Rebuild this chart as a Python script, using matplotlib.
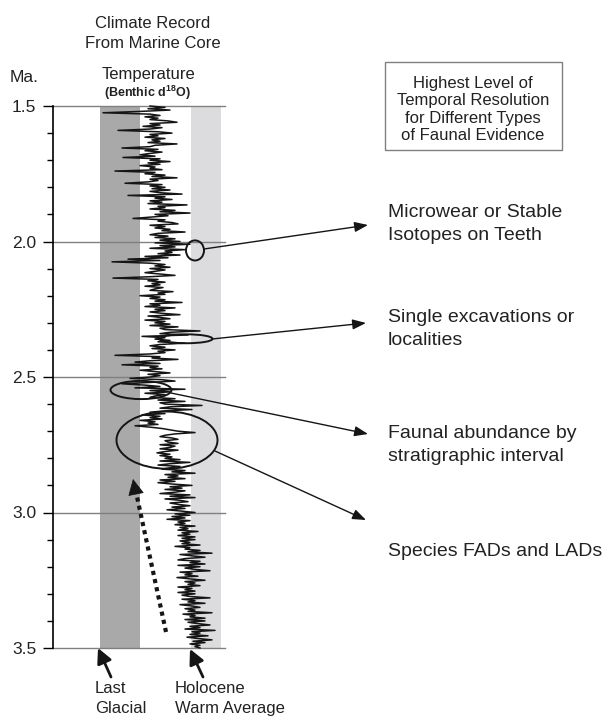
import matplotlib
matplotlib.use('Agg')
import matplotlib.pyplot as plt
from matplotlib.patches import Ellipse, Rectangle
from matplotlib.ticker import MultipleLocator, FormatStrFormatter
import numpy as np

plt.rcParams['font.family'] = ['Liberation Sans', 'DejaVu Sans']
plt.rcParams['mathtext.fontset'] = 'custom'
plt.rcParams['mathtext.rm'] = 'Liberation Sans'
plt.rcParams['mathtext.bf'] = 'Liberation Sans:bold'

# benthic d18O record (per mil), one sample every 0.005 Ma from 1.500 to 3.500 Ma
ages = np.arange(300, 701) / 200.0
d18o = [
    # 1.50
    4.23, 4.08, 4.25, 4.03, 4.33, 4.70, 4.23, 4.13, 4.28, 4.15,
    4.23, 4.05, 3.96, 4.23, 4.13, 4.30, 4.11, 4.23, 4.55, 4.15,
    # 1.60
    4.01, 4.23, 4.15, 4.28, 4.08, 4.21, 4.13, 4.25, 3.96, 4.18,
    4.23, 4.51, 4.15, 4.28, 4.11, 4.23, 4.33, 4.18, 4.50, 4.13,
    # 1.70
    4.23, 4.03, 4.25, 4.13, 4.33, 4.18, 4.23, 4.11, 4.58, 4.18,
    4.28, 4.08, 4.21, 3.96, 4.23, 4.15, 4.25, 4.48, 4.11, 4.23,
    # 1.80
    4.08, 4.21, 4.03, 4.23, 4.13, 3.91, 4.45, 4.08, 4.18, 4.01,
    4.23, 4.11, 4.25, 3.86, 4.15, 4.08, 4.23, 3.98, 4.13, 3.83,
    # 1.90
    4.18, 4.05, 4.23, 4.40, 4.08, 4.15, 4.01, 3.95, 4.23, 4.08,
    4.18, 4.03, 4.11, 3.88, 4.15, 4.23, 4.05, 4.18, 3.98, 4.13,
    # 2.00
    3.93, 4.18, 3.83, 4.13, 3.98, 4.23, 3.88, 4.08, 4.01, 4.15,
    3.93, 4.28, 4.05, 4.45, 4.13, 4.61, 4.23, 4.08, 4.18, 4.03,
    # 2.10
    4.23, 4.08, 4.18, 4.28, 4.13, 3.98, 4.23, 4.60, 4.15, 4.25,
    4.08, 4.21, 4.13, 4.28, 4.10, 4.18, 4.23, 4.00, 4.15, 4.08,
    # 2.20
    4.33, 4.13, 4.23, 4.08, 4.18, 3.91, 4.23, 4.13, 4.28, 3.98,
    4.18, 4.08, 4.23, 4.11, 3.93, 4.25, 4.13, 4.03, 4.28, 4.08,
    # 2.30
    4.18, 4.03, 4.23, 3.95, 4.13, 4.08, 3.73, 4.03, 4.13, 3.85,
    4.31, 4.08, 4.18, 4.03, 4.15, 3.88, 4.13, 4.23, 4.08, 4.21,
    # 2.40
    3.98, 4.15, 4.08, 4.23, 4.58, 4.13, 4.21, 3.95, 4.23, 4.38,
    4.13, 4.51, 4.15, 4.23, 4.11, 4.33, 4.18, 4.03, 4.25, 4.13,
    # 2.50
    4.23, 4.43, 4.11, 3.98, 4.23, 4.51, 4.28, 4.13, 4.38, 3.88,
    4.23, 4.03, 4.28, 4.08, 4.18, 4.23, 3.98, 4.15, 3.88, 4.13,
    # 2.60
    4.08, 3.71, 4.03, 4.13, 3.81, 4.08, 4.23, 4.08, 4.31, 4.13,
    4.23, 4.11, 4.33, 4.18, 4.25, 4.15, 4.38, 4.23, 4.11, 4.03,
    # 2.70
    3.95, 3.78, 3.98, 4.08, 4.13, 4.01, 3.95, 4.08, 4.05, 3.95,
    4.13, 3.98, 4.03, 4.13, 3.95, 4.08, 4.16, 4.03, 4.13, 4.01,
    # 2.80
    4.08, 3.93, 4.13, 3.83, 4.03, 4.15, 3.93, 4.03, 4.11, 3.88,
    4.01, 3.78, 4.08, 3.95, 4.05, 3.88, 4.13, 3.98, 4.15, 4.01,
    # 2.90
    3.81, 4.03, 3.91, 4.08, 3.88, 3.98, 4.13, 3.83, 4.03, 3.78,
    4.08, 3.93, 3.85, 4.03, 3.95, 3.83, 4.01, 3.88, 4.06, 3.91,
    # 3.00
    3.78, 3.98, 3.83, 4.01, 3.88, 4.06, 3.83, 3.95, 3.88, 3.98,
    3.78, 3.93, 3.85, 3.95, 3.75, 3.91, 3.83, 3.95, 3.78, 3.91,
    # 3.10
    3.78, 3.93, 3.83, 3.91, 3.73, 3.98, 3.83, 3.88, 3.73, 3.85,
    3.61, 3.93, 3.81, 3.68, 3.88, 3.95, 3.73, 3.83, 3.68, 3.95,
    # 3.20
    3.73, 3.88, 3.78, 3.63, 3.93, 3.81, 3.88, 3.75, 3.96, 3.83,
    3.68, 3.88, 3.78, 3.85, 3.73, 3.95, 3.81, 3.88, 3.78, 3.95,
    # 3.30
    3.78, 3.91, 3.83, 3.63, 3.91, 3.78, 3.85, 3.68, 3.93, 3.81,
    3.73, 3.88, 3.78, 3.85, 3.61, 3.90, 3.78, 3.83, 3.68, 3.88,
    # 3.40
    3.68, 3.85, 3.75, 3.63, 3.83, 3.73, 3.88, 3.58, 3.81, 3.73,
    3.83, 3.65, 3.86, 3.75, 3.61, 3.80, 3.68, 3.83, 3.73, 3.78,
    # 3.50
    3.73,
]

glacial_band = (4.73, 4.33)    # last glacial
holocene_band = (3.82, 3.52)   # holocene warm average

# circled intervals on the record
circle_age = [2.033, 2.359, 2.548, 2.733]
circle_d18o = [3.78, 3.87, 4.32, 4.06]
circle_w = [0.18, 0.53, 0.61, 1.01]
circle_h = [0.074, 0.033, 0.067, 0.211]

evidence = ["Microwear or Stable\nIsotopes on Teeth",
            "Single excavations or\nlocalities",
            "Faunal abundance by\nstratigraphic interval",
            "Species FADs and LADs"]

txt = '#222222'
fig = plt.figure(figsize=(6.02, 7.18), dpi=100)

ax = fig.add_axes([53 / 602, 70 / 718, 172 / 602, 542 / 718])
ax.set_xlim(5.20, 3.48)
ax.set_ylim(3.5, 1.5)
ax.axvspan(*glacial_band, color='#a9a9a9', lw=0, zorder=0)
ax.axvspan(*holocene_band, color='#dcdcde', lw=0, zorder=0)
for t in [1.5, 2.0, 2.5, 3.0, 3.5]:
    ax.axhline(t, color='#808080', lw=1.0, zorder=1, clip_on=False)
ax.plot(d18o, ages, color='#151515', lw=1.1, zorder=2, clip_on=False)
for a, d, w, h in zip(circle_age, circle_d18o, circle_w, circle_h):
    ax.add_patch(Ellipse((d, a), w, h, fill=False, ec='#151515', lw=1.4,
                         zorder=3, clip_on=False))

for s in ['top', 'right', 'bottom']:
    ax.spines[s].set_visible(False)
ax.spines['left'].set_linewidth(1.2)
ax.set_xticks([])
ax.yaxis.set_major_locator(MultipleLocator(0.5))
ax.yaxis.set_minor_locator(MultipleLocator(0.1))
ax.yaxis.set_major_formatter(FormatStrFormatter('%.1f'))
ax.tick_params(axis='y', which='major', length=7, width=1, labelsize=12.5,
               pad=5, labelcolor=txt)
ax.tick_params(axis='y', which='minor', length=4.3, width=1)

# annotation layer in figure pixels
ov = fig.add_axes([0, 0, 1, 1], zorder=5)
ov.set_xlim(0, 602)
ov.set_ylim(718, 0)
ov.axis('off')
ov.patch.set_alpha(0)

ov.text(153, 48, "Climate Record\nFrom Marine Core", ha='center', va='baseline',
        fontsize=12, color=txt, linespacing=1.4)
ov.text(10, 82, "Ma.", ha='left', va='baseline', fontsize=12.5, color=txt)
ov.text(148, 79, "Temperature", ha='center', va='baseline', fontsize=12, color=txt)
ov.text(147, 97, r"(Benthic d$\mathbf{^{18}}$O)", ha='center', va='baseline',
        fontsize=9, fontweight='bold', color=txt)

ov.add_patch(Rectangle((385, 62), 177, 88, fill=False, ec='#808080', lw=1.0))
ov.text(473, 140, "Highest Level of\nTemporal Resolution\nfor Different Types\nof Faunal Evidence",
        ha='center', va='baseline', fontsize=12, color=txt, linespacing=1.2)

tails = [(204, 249), (212, 339), (171, 393), (215, 451)]
heads = [(368, 225), (366, 323), (368, 434), (366, 520)]
label_y = [240, 345, 461, 556]
for lab, tl, hd, y in zip(evidence, tails, heads, label_y):
    ov.annotate('', xy=hd, xytext=tl,
                arrowprops=dict(arrowstyle='-|>,head_length=0.45,head_width=0.17',
                                mutation_scale=18, color='#151515', lw=1.0,
                                shrinkA=0, shrinkB=0))
    ov.text(388, y, lab, ha='left', va='baseline', fontsize=14, color=txt,
            linespacing=1.45)

# dotted trend arrow
ov.plot([166, 136], [632, 492], color='#151515', lw=3, linestyle=(0, (1, 1)),
        solid_capstyle='butt', dash_capstyle='butt')
ov.annotate('', xy=(133, 479), xytext=(135.8, 493),
            arrowprops=dict(arrowstyle='-|>,head_length=0.7,head_width=0.35',
                            mutation_scale=15, color='#151515', lw=0.5,
                            shrinkA=0, shrinkB=0))

# reference markers at the bottom
for tl, hd in [((111, 677), (98, 648)), ((203, 677), (190, 649))]:
    ov.annotate('', xy=hd, xytext=tl,
                arrowprops=dict(arrowstyle='-|>,head_length=0.6,head_width=0.3',
                                mutation_scale=15, color='#151515', lw=2.0,
                                shrinkA=0, shrinkB=0))
ov.text(95, 713, "Last\nGlacial", ha='left', va='baseline', fontsize=12,
        color=txt, linespacing=1.4)
ov.text(175, 713, "Holocene\nWarm Average", ha='left', va='baseline', fontsize=12,
        color=txt, linespacing=1.4)

fig.savefig('out.png', dpi=100, facecolor='white')
